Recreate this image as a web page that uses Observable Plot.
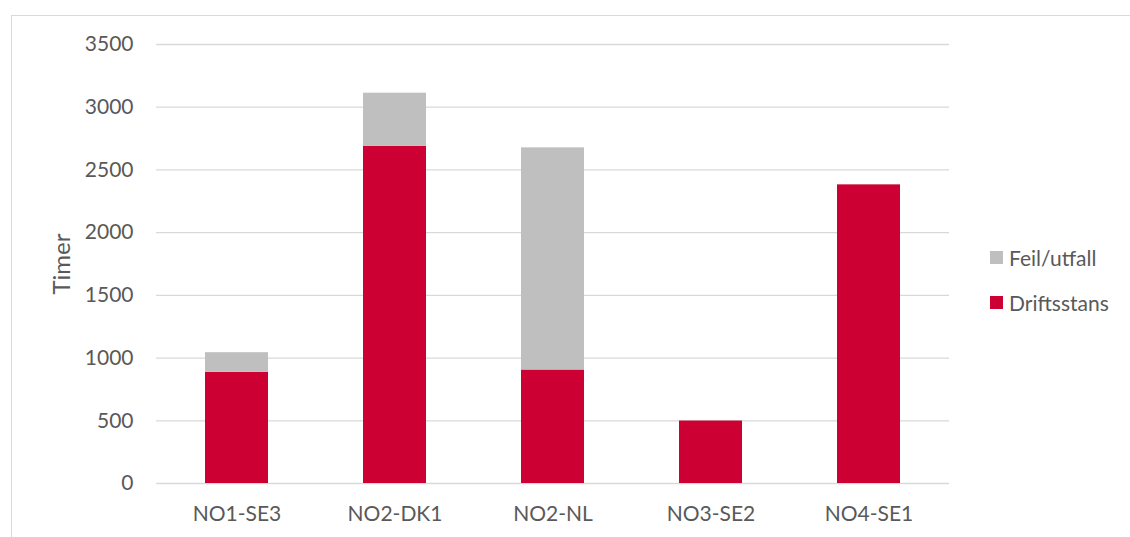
<!DOCTYPE html>
<html>
<head>
<meta charset="utf-8">
<script src="https://cdn.jsdelivr.net/npm/d3@7"></script>
<script src="https://cdn.jsdelivr.net/npm/@observablehq/plot@0.6"></script>
<style>
  html, body { margin: 0; padding: 0; background: #fff; overflow: hidden; }
  #wrap { position: relative; width: 1130px; height: 537px; font-family: Lato, "Open Sans", sans-serif; }
  #frame { position: absolute; left: 11px; top: 15px; width: 1200px; height: 600px;
           border: 1.5px solid #d9d9d9; box-sizing: border-box; }
  #chart { position: absolute; left: 0; top: 0; }
  #legend { position: absolute; left: 990px; top: 0; font-size: 21px; color: #595959; }
  .item { position: absolute; left: 0; display: flex; align-items: center; white-space: nowrap; }
  .sw { width: 13px; height: 13px; margin-right: 6px; }
</style>
</head>
<body>
<div id="wrap">
  <div id="frame"></div>
  <div id="chart"></div>
  <div id="legend"></div>
</div>
<script>
// Utenlandsforbindelser: timer med driftsstans og feil/utfall
const categories = ["NO1-SE3", "NO2-DK1", "NO2-NL", "NO3-SE2", "NO4-SE1"];
const driftsstans = [886, 2689, 905, 498, 2381];
const feilUtfall = [157, 423, 1771, 0, 0];
const yTicks = [0, 500, 1000, 1500, 2000, 2500, 3000, 3500];
const seriesNames = ["Driftsstans", "Feil/utfall"];
const seriesColors = ["#cc0033", "#bfbfbf"];

// Long-form table: bottom segment first so it stacks underneath
const rows = [];
categories.forEach((c, i) => rows.push({ category: c, series: seriesNames[0], value: driftsstans[i] }));
categories.forEach((c, i) => rows.push({ category: c, series: seriesNames[1], value: feilUtfall[i] }));

const textColor = "#595959";

const plot = Plot.plot({
  width: 1130,
  height: 537,
  marginLeft: 156,
  marginRight: 181,
  marginTop: 44,
  marginBottom: 54,
  style: { fontFamily: "Lato, 'Open Sans', sans-serif", fontSize: "21px", color: textColor, background: "transparent" },
  x: { domain: categories, paddingInner: 0.6, paddingOuter: 0.3, label: null },
  y: { domain: [0, 3500], label: null },
  color: { domain: seriesNames, range: seriesColors },
  marks: [
    Plot.gridY(yTicks, { stroke: "#d9d9d9", strokeOpacity: 1, strokeWidth: 1.3 }),
    Plot.barY(rows, { x: "category", y: "value", fill: "series", order: seriesNames }),
    Plot.axisY(yTicks, { tickSize: 0, tickPadding: 23, tickFormat: d => String(d), fill: textColor, fontSize: 21, label: null }),
    Plot.axisX({ tickSize: 0, tickPadding: 23, fill: textColor, fontSize: 21, label: null }),
    Plot.text(["Timer"], {
      frameAnchor: "left", textAnchor: "middle", dx: -94, rotate: -90, fill: textColor, fontSize: 24
    })
  ]
});
document.getElementById("chart").appendChild(plot);

// Legend, listed top-down with the upper stack segment first
const legend = document.getElementById("legend");
const legendItems = [
  { name: seriesNames[1], color: seriesColors[1], cy: 257 },
  { name: seriesNames[0], color: seriesColors[0], cy: 302 }
];
legendItems.forEach(d => {
  const item = document.createElement("div");
  item.className = "item";
  item.style.top = (d.cy - 14) + "px";
  item.style.height = "28px";
  const sw = document.createElement("div");
  sw.className = "sw";
  sw.style.background = d.color;
  const label = document.createElement("span");
  label.textContent = d.name;
  item.appendChild(sw);
  item.appendChild(label);
  legend.appendChild(item);
});
</script>
</body>
</html>
